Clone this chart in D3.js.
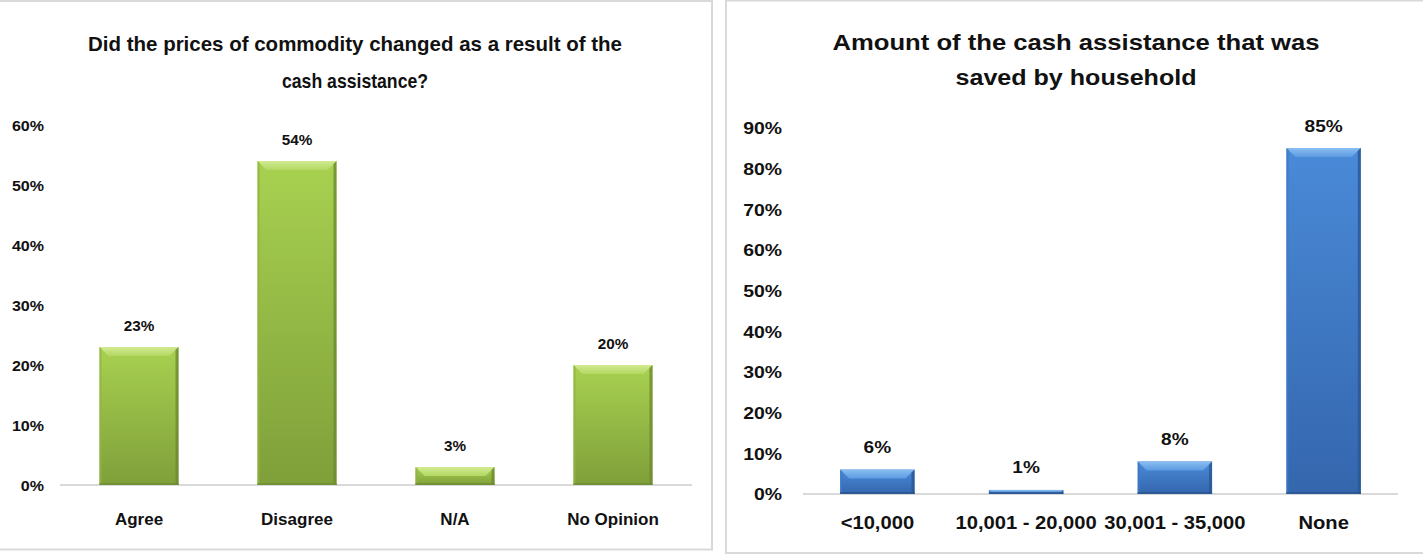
<!DOCTYPE html>
<html><head><meta charset="utf-8">
<script src="https://cdn.jsdelivr.net/npm/d3@7"></script>
<style>
body{margin:0;background:#fff;}
svg{display:block;font-family:"Liberation Sans",Arial,sans-serif;}
</style>
</head><body>
<svg id="chart" width="1423" height="554"></svg>
<script>
// ---------- data ----------
const leftTitle = ["Did the prices of commodity changed as a result of the", "cash assistance?"];
const leftCategories = ["Agree", "Disagree", "N/A", "No Opinion"];
const leftValues = [23, 54, 3, 20];
const leftTicks = [0, 10, 20, 30, 40, 50, 60];

const rightTitle = ["Amount of the cash assistance that was", "saved by household"];
const rightCategories = ["<10,000", "10,001 - 20,000", "30,001 - 35,000", "None"];
const rightValues = [6, 1, 8, 85];
const rightTicks = [0, 10, 20, 30, 40, 50, 60, 70, 80, 90];

// ---------- layout ----------
const svg = d3.select("#chart");
const defs = svg.append("defs");

function grad(id, stops, vertical) {
  const g = defs.append("linearGradient").attr("id", id)
    .attr("x1", 0).attr("y1", 0).attr("x2", vertical ? 0 : 1).attr("y2", vertical ? 1 : 0);
  stops.forEach(s => g.append("stop").attr("offset", s[0]).attr("stop-color", s[1]));
}
grad("gBody", [[0, "#a8d150"], [1, "#7f9f3a"]], true);
grad("gTop", [[0, "#d2ea92"], [1, "#b3d762"]], true);
grad("bBody", [[0, "#4a8ad8"], [1, "#3466ad"]], true);
grad("bTop", [[0, "#8bbdf0"], [1, "#5b9be2"]], true);

function stretch(sel, sx) {
  sel.each(function() {
    const n = d3.select(this);
    n.attr("textLength", this.getComputedTextLength() * sx).attr("lengthAdjust", "spacingAndGlyphs");
  });
}

const panels = [
  {
    title: leftTitle, cats: leftCategories, vals: leftValues, ticks: leftTicks, max: 60,
    frame: {x: -1, y: 1, w: 713, h: 548.5},
    titleCx: 355, titleY: [43, 80], titleW: [534, 146], titleSize: 21,
    x0: 60, x1: 692, y0: 485, y1: 125,
    tickX: 44, tickSize: 15, tickSx: 1.07, catY: 519, catSize: 17, catSx: 1.0, valSize: 15, valSx: 1.02,
    body: "url(#gBody)", top: "url(#gTop)", edgeL: "#8fb443", edgeR: "#6d8a31", bottom: "#6f8c33"
  },
  {
    title: rightTitle, cats: rightCategories, vals: rightValues, ticks: rightTicks, max: 90,
    frame: {x: 726, y: 0.5, w: 700, h: 552.5},
    titleCx: 1076, titleY: [42, 77], titleW: [487, 241], titleSize: 22,
    x0: 803, x1: 1398, y0: 494, y1: 127.7,
    tickX: 782, tickSize: 17, tickSx: 1.14, catY: 523, catSize: 18, catSx: 1.12, valSize: 17, valSx: 1.12,
    body: "url(#bBody)", top: "url(#bTop)", edgeL: "#3c79c6", edgeR: "#2b5694", bottom: "#2a5590"
  }
];

panels.forEach(p => {
  const g = svg.append("g");
  g.append("rect").attr("x", p.frame.x).attr("y", p.frame.y)
    .attr("width", p.frame.w).attr("height", p.frame.h)
    .attr("fill", "#fff").attr("stroke", "#d9d9d9").attr("stroke-width", 2);

  // title
  p.title.forEach((line, i) => {
    g.append("text").attr("x", p.titleCx).attr("y", p.titleY[i])
      .attr("text-anchor", "middle").attr("dominant-baseline", "central")
      .attr("font-size", p.titleSize).attr("font-weight", "bold").attr("fill", "#111")
      .attr("textLength", p.titleW[i]).attr("lengthAdjust", "spacingAndGlyphs")
      .text(line);
  });

  const x = d3.scaleBand().domain(p.cats).range([p.x0, p.x1]).paddingInner(0.5).paddingOuter(0.25);
  const y = d3.scaleLinear().domain([0, p.max]).range([p.y0, p.y1]);

  // y axis labels
  const yAxis = d3.axisLeft(y).tickValues(p.ticks).tickSize(0).tickPadding(0).tickFormat(d => d + "%");
  const ya = g.append("g").attr("transform", `translate(${p.tickX},0)`).call(yAxis);
  ya.select(".domain").remove();
  ya.selectAll("text").attr("font-size", p.tickSize).attr("font-weight", "bold")
    .attr("fill", "#111").attr("font-family", "Liberation Sans, Arial, sans-serif").attr("dy", "0.35em");
  stretch(ya.selectAll("text"), p.tickSx);

  // baseline
  g.append("line").attr("x1", p.x0).attr("x2", p.x1).attr("y1", y(0)).attr("y2", y(0))
    .attr("stroke", "#d9d9d9").attr("stroke-width", 2);

  // x axis labels
  const xAxis = d3.axisBottom(x).tickSize(0).tickPadding(0);
  const xa = g.append("g").attr("transform", `translate(0,${p.catY})`).call(xAxis);
  xa.select(".domain").remove();
  xa.selectAll("text").attr("font-size", p.catSize).attr("font-weight", "bold")
    .attr("fill", "#111").attr("dy", "0.35em").attr("font-family", "Liberation Sans, Arial, sans-serif");
  stretch(xa.selectAll("text"), p.catSx);

  // bars
  const data = p.cats.map((c, i) => ({c, v: p.vals[i]}));
  const bars = g.selectAll(".bar").data(data).enter().append("g");
  bars.each(function(d) {
    const bx = x(d.c), bw = x.bandwidth(), by = y(d.v), bh = y(0) - y(d.v);
    const b = Math.min(9, bh / 2);
    const s = d3.select(this);
    s.append("rect").attr("x", bx).attr("y", by).attr("width", bw).attr("height", bh).attr("fill", p.body);
    s.append("polygon").attr("points", [[bx, by], [bx + bw, by], [bx + bw - b, by + b], [bx + b, by + b]].join(" "))
      .attr("fill", p.top);
    s.append("polygon").attr("points", [[bx, by], [bx + Math.min(2, b), by + Math.min(2, b)], [bx + Math.min(2, b), by + bh], [bx, by + bh]].join(" "))
      .attr("fill", p.edgeL).attr("opacity", 0.8);
    s.append("polygon").attr("points", [[bx + bw, by], [bx + bw - Math.min(3, b), by + Math.min(3, b)], [bx + bw - Math.min(3, b), by + bh], [bx + bw, by + bh]].join(" "))
      .attr("fill", p.edgeR).attr("opacity", 0.8);
    s.append("rect").attr("x", bx).attr("y", by + bh - Math.min(2, b)).attr("width", bw).attr("height", Math.min(2, b))
      .attr("fill", p.bottom).attr("opacity", 0.8);
    const t = s.append("text").attr("x", bx + bw / 2).attr("y", by - 22).attr("text-anchor", "middle")
      .attr("dominant-baseline", "central").attr("font-size", p.valSize).attr("font-weight", "bold")
      .attr("fill", "#111").attr("font-family", "Liberation Sans, Arial, sans-serif")
      .text(d.v + "%");
    stretch(t, p.valSx);
  });
});
</script>
</body></html>
